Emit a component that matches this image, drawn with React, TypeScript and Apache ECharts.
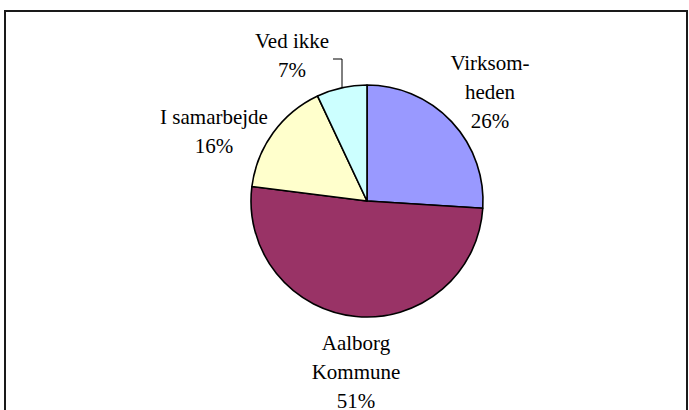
import React, { useEffect, useRef } from "react";
import * as echarts from "echarts";

const categories = ["Virksom-\nheden", "Aalborg\nKommune", "I samarbejde", "Ved ikke"];
const values = [26, 51, 16, 7];
const colors = ["#9999FF", "#993366", "#FFFFCC", "#CCFFFF"];

// label anchor: center x, top y of first line
const labelPos: [number, number][] = [
  [490, 52.5],
  [356, 332],
  [214, 106.5],
  [292, 30.5],
];
const LINE_H = 29;
const leaderPoints: [number, number][] = [
  [333, 59],
  [342, 59],
  [342, 87],
];

const FONT_CSS = "21px 'Liberation Serif', 'Times New Roman', serif";

export default function App() {
  const ref = useRef<HTMLDivElement>(null);
  useEffect(() => {
    if (!ref.current) return;
    const chart = echarts.init(ref.current, undefined, { renderer: "svg" });
    const cv = document.createElement("canvas");
    const ctx = cv.getContext("2d");
    if (ctx) ctx.font = FONT_CSS;
    const measure = (s: string) => (ctx ? ctx.measureText(s).width : s.length * 9.5);
    const total = values.reduce((a, b) => a + b, 0);
    const labels: any[] = [];
    categories.forEach((name, i) => {
      const lines = [...name.split("\n"), `${Math.round((values[i] / total) * 100)}%`];
      lines.forEach((ln, j) => {
        labels.push({
          type: "text",
          x: labelPos[i][0] - measure(ln) / 2,
          y: labelPos[i][1] + j * LINE_H,
          style: {
            text: ln,
            font: FONT_CSS,
            fill: "#000",
          },
        });
      });
    });
    chart.setOption({
      animation: false,
      backgroundColor: "#fff",
      series: [
        {
          type: "pie",
          center: [367, 201],
          radius: 116,
          startAngle: 90,
          clockwise: true,
          itemStyle: { borderColor: "#000", borderWidth: 1.6 },
          label: { show: false },
          labelLine: { show: false },
          emphasis: { disabled: true },
          data: categories.map((name, i) => ({
            name,
            value: values[i],
            itemStyle: { color: colors[i] },
          })),
        },
      ],
      graphic: [
        {
          type: "rect",
          shape: { x: 5, y: 11, width: 682, height: 420 },
          style: { fill: "none", stroke: "#1a1a1a", lineWidth: 2 },
        },
        {
          type: "polyline",
          shape: { points: leaderPoints },
          style: { fill: "none", stroke: "#000", lineWidth: 1 },
        },
        ...labels,
      ],
    });
    return () => chart.dispose();
  }, []);
  return (
    <div
      ref={ref}
      style={{ position: "fixed", left: 0, top: 0, width: 689, height: 410 }}
    />
  );
}
